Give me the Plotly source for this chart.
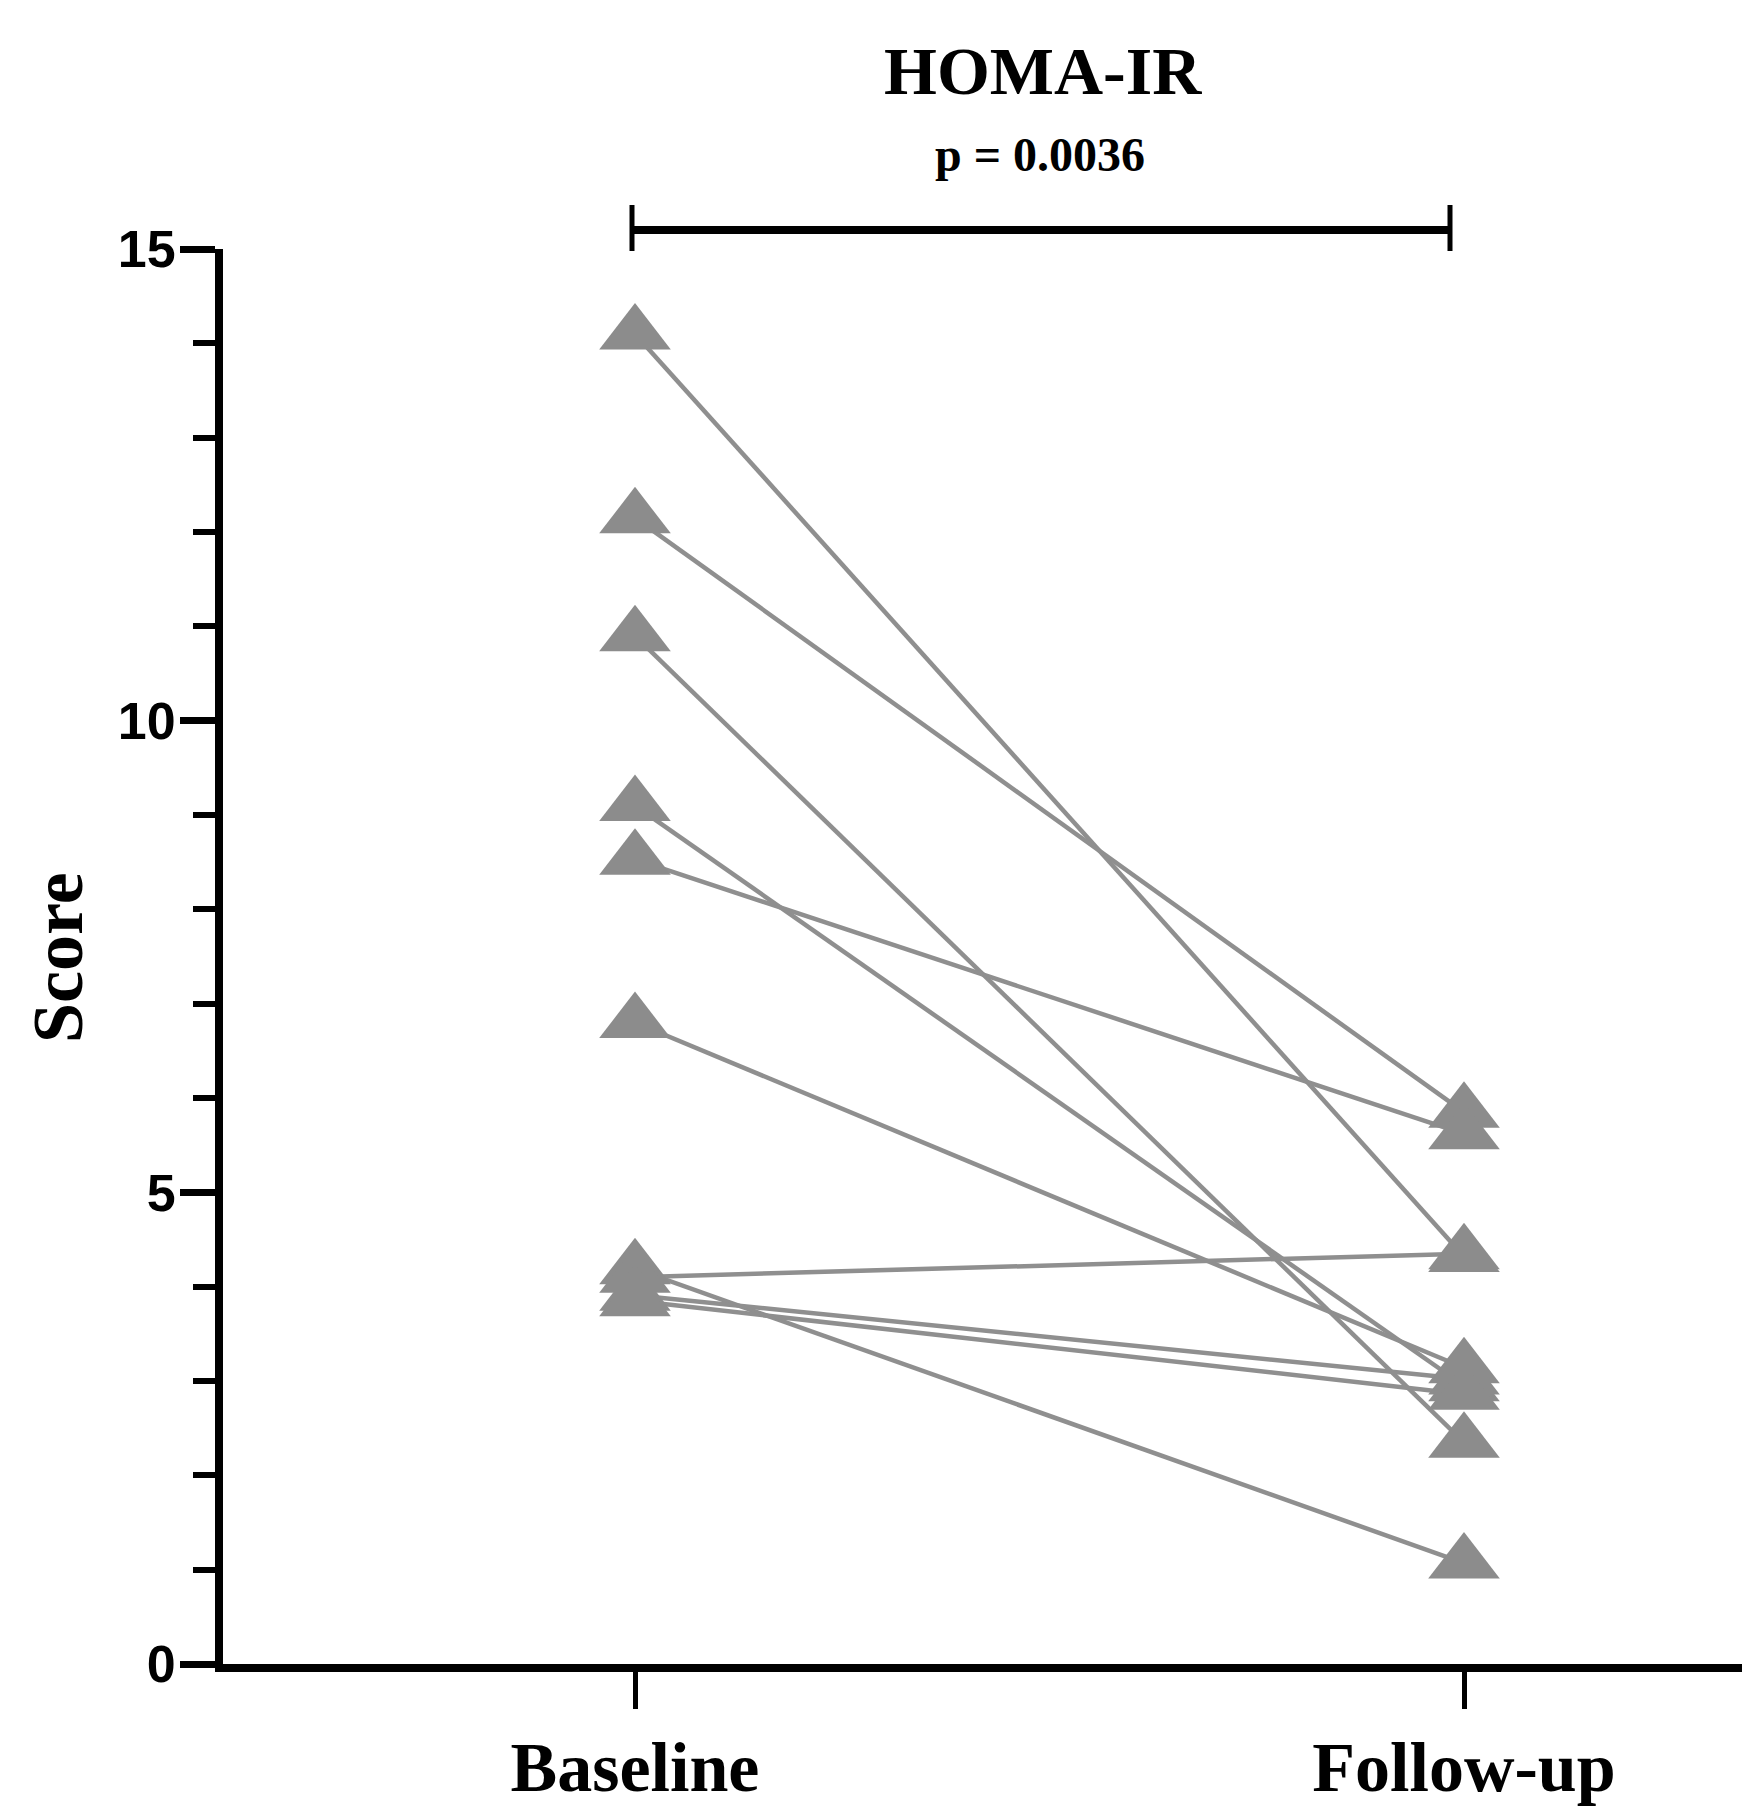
import plotly.graph_objects as go

# ---- data ----
groups = ["Baseline", "Follow-up"]
baseline = [14.1, 12.15, 10.9, 9.1, 8.53, 6.8, 4.19, 4.10, 3.91, 3.85]
followup = [4.32, 5.85, 2.35, 2.95, 5.62, 3.14, 1.07, 4.35, 3.02, 2.86]
y_ticks = [0, 5, 10, 15]
title_text = "HOMA-IR"
p_text = "p = 0.0036"
y_title = "Score"

W, H = 1742, 1807
L, R, T, B = 223, 0, 249, 143

serif = "Liberation Serif, Times New Roman, serif"
sans = "Liberation Sans, Arial, sans-serif"
line_col = "#8f8f8f"
mark_col = "#8c8c8c"

xpos = list(range(len(groups)))

# connecting lines (one trace, separated by None)
lx, ly = [], []
for b, f in zip(baseline, followup):
    lx += [xpos[0], xpos[1], None]
    ly += [b, f, None]

fig = go.Figure()
fig.add_trace(go.Scatter(x=lx, y=ly, mode="lines",
                         line=dict(color=line_col, width=4.5),
                         hoverinfo="skip", showlegend=False, cliponaxis=False))
fig.add_trace(go.Scatter(x=[xpos[0]] * len(baseline) + [xpos[1]] * len(followup),
                         y=baseline + followup, mode="markers",
                         marker=dict(symbol="triangle-up", size=62, color=mark_col,
                                     line=dict(width=0)),
                         showlegend=False, cliponaxis=False))

plot_h = H - T - B
plot_w = W - L - R
def py(px):  # pixel row -> paper y
    return (H - B - px) / plot_h
def pxx(px):  # pixel col -> paper x
    return (px - L) / plot_w

x0_px, x1_px = 635, 1464
ppu = x1_px - x0_px
def dx(px):  # pixel col -> data x
    return (px - x0_px) / ppu
xr = [dx(L), dx(W - R)]

# significance bracket
bl, br = dx(632), dx(1450)
shapes = [
    dict(type="line", xref="x", yref="paper", x0=bl, x1=br, y0=py(230), y1=py(230),
         line=dict(color="black", width=8)),
    dict(type="line", xref="x", yref="paper", x0=bl, x1=bl, y0=py(205), y1=py(251),
         line=dict(color="black", width=5)),
    dict(type="line", xref="x", yref="paper", x0=br, x1=br, y0=py(205), y1=py(251),
         line=dict(color="black", width=5)),
]

annotations = [
    dict(text=title_text, xref="x", yref="paper", x=dx(1043), y=py(71), showarrow=False,
         xanchor="center", yanchor="middle",
         font=dict(family=serif, size=68, color="black", weight="bold")),
    dict(text=p_text, xref="x", yref="paper", x=dx(1040), y=py(155), showarrow=False,
         xanchor="center", yanchor="middle",
         font=dict(family=serif, size=48, color="black", weight="bold")),
    dict(text=y_title, xref="paper", yref="paper", x=pxx(58), y=py(958), showarrow=False,
         textangle=-90, xanchor="center", yanchor="middle",
         font=dict(family=serif, size=72, color="black", weight="bold")),
]

fig.update_layout(
    width=W, height=H, autosize=False,
    margin=dict(l=L, r=R, t=T, b=B, pad=0, autoexpand=False),
    paper_bgcolor="white", plot_bgcolor="white",
    shapes=shapes, annotations=annotations,
    xaxis=dict(range=xr, tickmode="array", tickvals=xpos, ticktext=groups,
               automargin=False,
               showgrid=False, zeroline=False, showline=True, linecolor="black",
               linewidth=8, ticks="outside", ticklen=37, tickwidth=5, tickcolor="black",
               tickfont=dict(family=serif, size=70, color="black", weight="bold"),
               ticklabelstandoff=-2),
    yaxis=dict(range=[0, 15], tickmode="array", tickvals=y_ticks,
               automargin=False,
               showgrid=False, zeroline=False, showline=True, linecolor="black",
               linewidth=8, ticks="outside", ticklen=35, tickwidth=7, tickcolor="black",
               tickfont=dict(family=sans, size=52, color="black", weight="bold"),
               minor=dict(dtick=1, tick0=0, ticks="outside", ticklen=22, tickwidth=6,
                          tickcolor="black", showgrid=False),
               ticklabelstandoff=-6),
)

fig.write_html("out.html", config={"displayModeBar": False},
               post_script="document.body.style.margin='0';document.body.style.overflow='hidden';")
